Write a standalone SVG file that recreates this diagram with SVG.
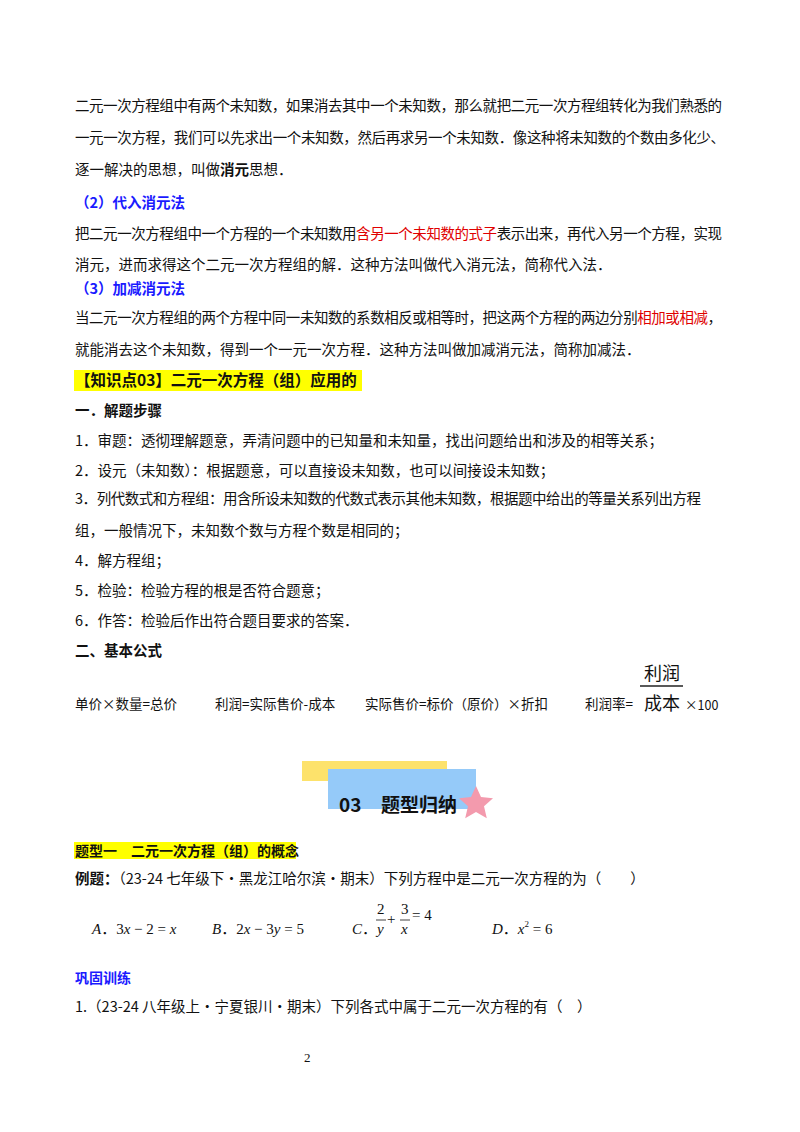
<svg xmlns="http://www.w3.org/2000/svg" width="800" height="1132" viewBox="0 0 800 1132">
<style>
text{font-family:"Noto Sans CJK SC","Liberation Sans",sans-serif;font-size:14.5px;fill:#111}
.b{font-weight:bold}
.blue{fill:#1a1aff;font-weight:bold}
.red{fill:#e00000}
.m{font-family:"Liberation Serif","Noto Sans CJK SC",serif;font-size:15px}
.i{font-style:italic}
</style>
<rect width="800" height="1132" fill="#fff"/>
<text x="75" y="111" textLength="647">二元一次方程组中有两个未知数，如果消去其中一个未知数，那么就把二元一次方程组转化为我们熟悉的</text>
<text x="75" y="143" textLength="650">一元一次方程，我们可以先求出一个未知数，然后再求另一个未知数．像这种将未知数的个数由多化少、</text>
<text x="75" y="175">逐一解决的思想，叫做<tspan class="b">消元</tspan>思想．</text>
<text x="75" y="208" class="blue">（2）代入消元法</text>
<text x="75" y="239" textLength="647">把二元一次方程组中一个方程的一个未知数用<tspan class="red">含另一个未知数的式子</tspan>表示出来，再代入另一个方程，实现</text>
<text x="75" y="270">消元，进而求得这个二元一次方程组的解．这种方法叫做代入消元法，简称代入法．</text>
<text x="75" y="294" class="blue">（3）加减消元法</text>
<text x="75" y="323" textLength="647">当二元一次方程组的两个方程中同一未知数的系数相反或相等时，把这两个方程的两边分别<tspan class="red">相加或相减</tspan>，</text>
<text x="75" y="355">就能消去这个未知数，得到一个一元一次方程．这种方法叫做加减消元法，简称加减法．</text>
<rect x="74" y="370" width="288" height="21" fill="#ffff00"/>
<text x="75" y="386" class="b" style="font-size:15.5px">【知识点03】二元一次方程（组）应用的</text>
<text x="75" y="416" class="b">一．解题步骤</text>
<text x="75" y="446">1．审题：透彻理解题意，弄清问题中的已知量和未知量，找出问题给出和涉及的相等关系；</text>
<text x="75" y="476">2．设元（未知数）：根据题意，可以直接设未知数，也可以间接设未知数；</text>
<text x="75" y="504" textLength="626">3．列代数式和方程组：用含所设未知数的代数式表示其他未知数，根据题中给出的等量关系列出方程</text>
<text x="75" y="536">组，一般情况下，未知数个数与方程个数是相同的；</text>
<text x="75" y="566">4．解方程组；</text>
<text x="75" y="596">5．检验：检验方程的根是否符合题意；</text>
<text x="75" y="626">6．作答：检验后作出符合题目要求的答案．</text>
<text x="75" y="656" class="b">二、基本公式</text>
<text x="75" y="709" style="font-size:13.5px">单价×数量=总价</text>
<text x="215" y="709" style="font-size:13.5px">利润=实际售价-成本</text>
<text x="365" y="709" style="font-size:13.5px">实际售价=标价（原价）×折扣</text>
<text x="585" y="709" style="font-size:13.5px">利润率=</text>
<text x="644" y="680" style="font-size:18px">利润</text>
<line x1="640" y1="686" x2="683" y2="686" stroke="#222" stroke-width="1.3"/>
<text x="644" y="710" style="font-size:18px">成本</text>
<text x="685" y="710" style="font-size:12.5px">×100</text>
<g id="banner">
<rect x="302" y="761" width="145" height="20" fill="#fde26b"/>
<rect x="328" y="769" width="148" height="40" fill="#95caf9"/>
<path d="M476,786 l5,11 12,1.2 -9,8 2.8,12 -10.8,-6.3 -10.8,6.3 2.8,-12 -9,-8 12,-1.2z" fill="#f39aad"/>
<text x="339" y="812" class="b" style="font-size:19px">03</text>
<text x="381" y="812" class="b" style="font-size:19px">题型归纳</text>
</g>
<rect x="74" y="842" width="222" height="17" fill="#ffff00"/>
<text x="75" y="856" class="b" style="font-size:14px">题型一　二元一次方程（组）的概念</text>
<text x="75" y="884"><tspan class="b">例题：</tspan>（23-24 七年级下·黑龙江哈尔滨·期末）下列方程中是二元一次方程的为（　　）</text>
<text x="92" y="934" class="m"><tspan class="i">A</tspan>．3<tspan class="i">x</tspan> − 2 = <tspan class="i">x</tspan></text>
<text x="212" y="934" class="m"><tspan class="i">B</tspan>．2<tspan class="i">x</tspan> − 3<tspan class="i">y</tspan> = 5</text>
<text x="352" y="934" class="m"><tspan class="i">C</tspan>．</text>
<text x="377" y="914" class="m">2</text><line x1="376" y1="920" x2="386" y2="920" stroke="#111" stroke-width="0.8"/><text x="377" y="934" class="m i">y</text>
<text x="387" y="924" class="m">+</text>
<text x="401" y="914" class="m">3</text><line x1="400" y1="920" x2="410" y2="920" stroke="#111" stroke-width="0.8"/><text x="401" y="934" class="m i">x</text>
<text x="412" y="920" class="m">= 4</text>
<text x="492" y="934" class="m"><tspan class="i">D</tspan>．<tspan class="i">x</tspan><tspan style="font-size:9px" dy="-7">2</tspan><tspan dy="7"> = 6</tspan></text>
<text x="75" y="983" class="blue" style="font-size:14px">巩固训练</text>
<text x="75" y="1012">1.（23-24 八年级上·宁夏银川·期末）下列各式中属于二元一次方程的有（　）</text>
<text x="304" y="1062" class="m" style="font-size:13px">2</text>
</svg>
